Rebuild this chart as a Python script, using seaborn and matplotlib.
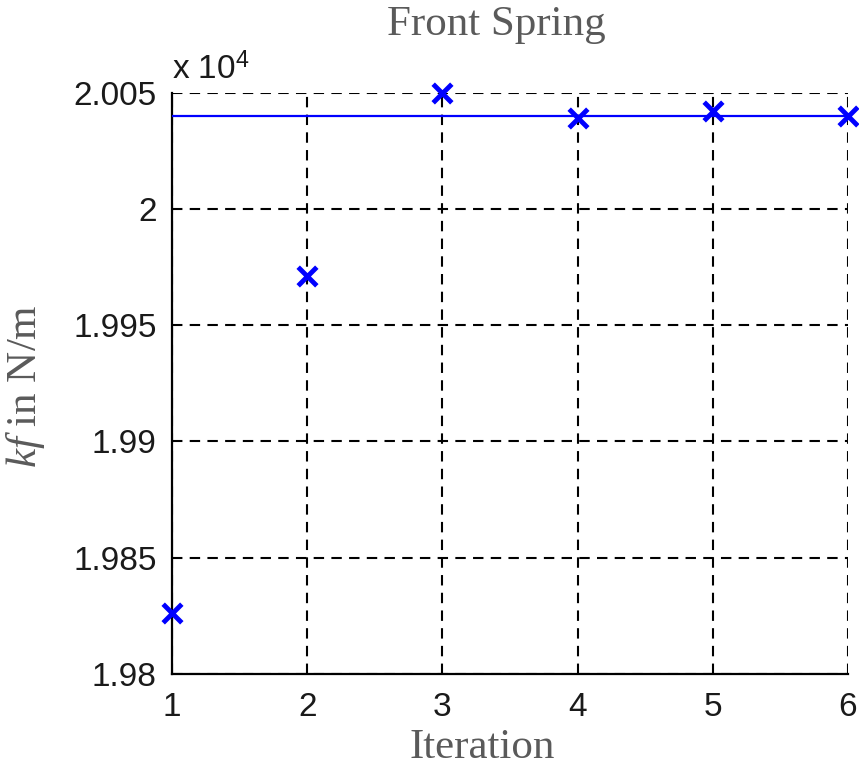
import matplotlib
matplotlib.use("Agg")
import matplotlib.pyplot as plt
from matplotlib.ticker import FuncFormatter
import seaborn as sns
import pandas as pd

# valeurs (N/m)
iteracao = [1, 2, 3, 4, 5, 6]
kf = [19826, 19971, 20050, 20039, 20042, 20040]
kf_final = 20040
yticks = [19800, 19850, 19900, 19950, 20000, 20050]

df = pd.DataFrame({"iteracao": iteracao, "kf": kf})

sns.set_style("white")
plt.rcParams["font.family"] = ["Liberation Sans", "DejaVu Sans"]
plt.rcParams["mathtext.fontset"] = "custom"
plt.rcParams["mathtext.it"] = "Liberation Serif:italic"
plt.rcParams["mathtext.rm"] = "Liberation Sans"

fig = plt.figure(figsize=(8.59, 7.72), dpi=100)
ax = fig.add_axes([0.2002, 0.127, 0.7870, 0.753])

ax.axhline(kf_final, color="#0000ff", lw=1.6, zorder=3)
sns.scatterplot(data=df, x="iteracao", y="kf", marker="x", color="#0000ff",
                s=180, linewidth=3.5, ax=ax, zorder=4, clip_on=False)

ax.set_xlim(1, 6)
ax.set_ylim(19800, 20050)
ax.set_xticks(iteracao)
ax.set_yticks(yticks)
ax.yaxis.set_major_formatter(FuncFormatter(lambda v, p: "{:g}".format(round(v / 1e4, 4))))
ax.grid(True, color="black", ls=(0, (5, 3.5)), lw=1.5)
ax.set_axisbelow(True)
for s in ["top", "right"]:
    ax.spines[s].set_visible(False)
for s in ["left", "bottom"]:
    ax.spines[s].set_color("black")
    ax.spines[s].set_linewidth(1.6)
ax.tick_params(axis="both", length=0, labelsize=24, colors="#1a1a1a")
ax.tick_params(axis="x", pad=13)
ax.tick_params(axis="y", pad=11)
ax.set_xlabel("")
ax.set_ylabel("")

ax.text(0.0, 1.012, r"x 10$^4$", transform=ax.transAxes, fontsize=24,
        color="#1a1a1a", ha="left", va="bottom")

serif = ["Liberation Serif", "DejaVu Serif"]
fig.text(0.578, 0.968, "Front Spring", fontsize=31, color="#5a5a5a",
         family=serif, ha="center", va="center")
fig.text(0.561, 0.032, "Iteration", fontsize=31, color="#5a5a5a",
         family=serif, ha="center", va="center")
fig.text(0.03, 0.50, r"$kf$ in N/m", fontsize=31, color="#5a5a5a",
         family=serif, ha="center", va="center", rotation=90)

fig.savefig("out.png", dpi=100)
